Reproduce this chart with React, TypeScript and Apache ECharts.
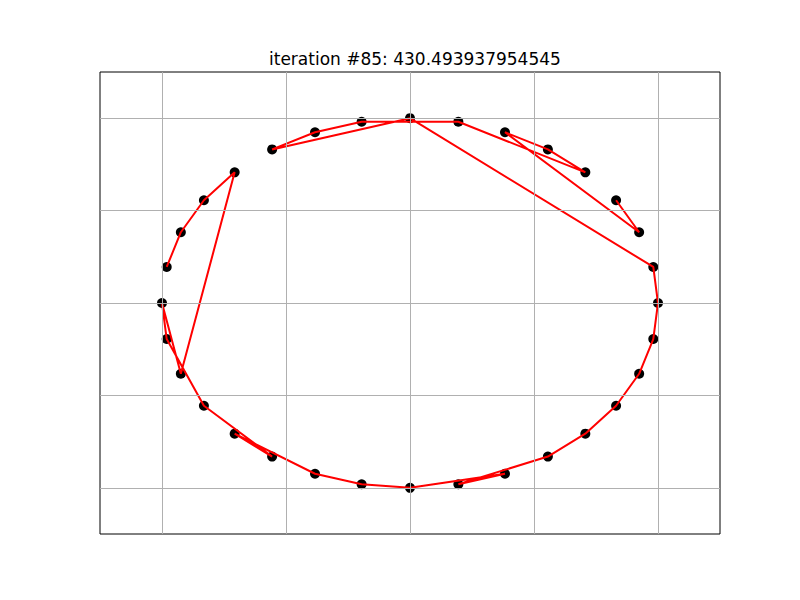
import React, { useEffect, useRef } from "react";
import * as echarts from "echarts";

const titleText = "iteration #85: 430.493937954545";

// city coordinates (index 0..31)
const cityX = [
  1, 0.981, 0.924, 0.831, 0.707, 0.556, 0.383, 0.195,
  0, -0.195, -0.383, -0.556, -0.707, -0.831, -0.924, -0.981,
  -1, -0.981, -0.924, -0.831, -0.707, -0.556, -0.383, -0.195,
  0, 0.195, 0.383, 0.556, 0.707, 0.831, 0.924, 0.981,
];
const cityY = [
  0, 0.195, 0.383, 0.556, 0.707, 0.831, 0.924, 0.981,
  1, 0.981, 0.924, 0.831, 0.707, 0.556, 0.383, 0.195,
  0, -0.195, -0.383, -0.556, -0.707, -0.831, -0.924, -0.981,
  -1, -0.981, -0.924, -0.831, -0.707, -0.556, -0.383, -0.195,
];

// order in which the route visits the cities
const tourOrder = [
  15, 14, 13, 12, 18, 16, 17, 19, 21, 20, 22, 23, 24, 26, 25, 27,
  28, 29, 30, 31, 0, 1, 8, 11, 10, 9, 7, 4, 5, 6, 2, 3,
];

const gridTicks = [-1, -0.5, 0, 0.5, 1];

export default function App() {
  const ref = useRef<HTMLDivElement>(null);
  useEffect(() => {
    if (!ref.current) return;
    const chart = echarts.init(ref.current, null, { renderer: "svg" });
    const points = cityX.map((x, i) => [x, cityY[i]]);
    const route = tourOrder.map((i) => [cityX[i], cityY[i]]);
    const gridLines = [
      ...gridTicks.map((v) => ({ xAxis: v })),
      ...gridTicks.map((v) => ({ yAxis: v })),
    ];
    chart.setOption({
      animation: false,
      backgroundColor: "#ffffff",
      title: {
        text: titleText,
        left: 264,
        top: 45,
        textStyle: {
          fontFamily: "DejaVu Sans",
          fontSize: 17,
          fontWeight: "normal",
          color: "#000000",
        },
      },
      grid: {
        left: 100,
        top: 72,
        width: 620,
        height: 462,
        show: true,
        borderColor: "#000000",
        borderWidth: 1,
        backgroundColor: "transparent",
      },
      xAxis: {
        type: "value",
        min: -1.25,
        max: 1.25,
        axisLine: { show: false },
        axisTick: { show: false },
        axisLabel: { show: false },
        splitLine: { show: false },
      },
      yAxis: {
        type: "value",
        min: -1.25,
        max: 1.25,
        axisLine: { show: false },
        axisTick: { show: false },
        axisLabel: { show: false },
        splitLine: { show: false },
      },
      series: [
        {
          type: "line",
          data: [],
          z: 1,
          silent: true,
          markLine: {
            silent: true,
            symbol: "none",
            label: { show: false },
            lineStyle: { color: "#b0b0b0", width: 1, type: "solid" },
            data: gridLines,
          },
        },
        {
          type: "scatter",
          data: points,
          symbol: "circle",
          symbolSize: 10,
          itemStyle: { color: "#000000", opacity: 1 },
          z: 3,
        },
        {
          type: "line",
          data: route,
          showSymbol: false,
          symbol: "none",
          lineStyle: { color: "#ff0000", width: 2 },
          z: 4,
        },
      ],
    });
    return () => chart.dispose();
  }, []);
  return <div ref={ref} style={{ width: 800, height: 600, margin: -8 }} />;
}
